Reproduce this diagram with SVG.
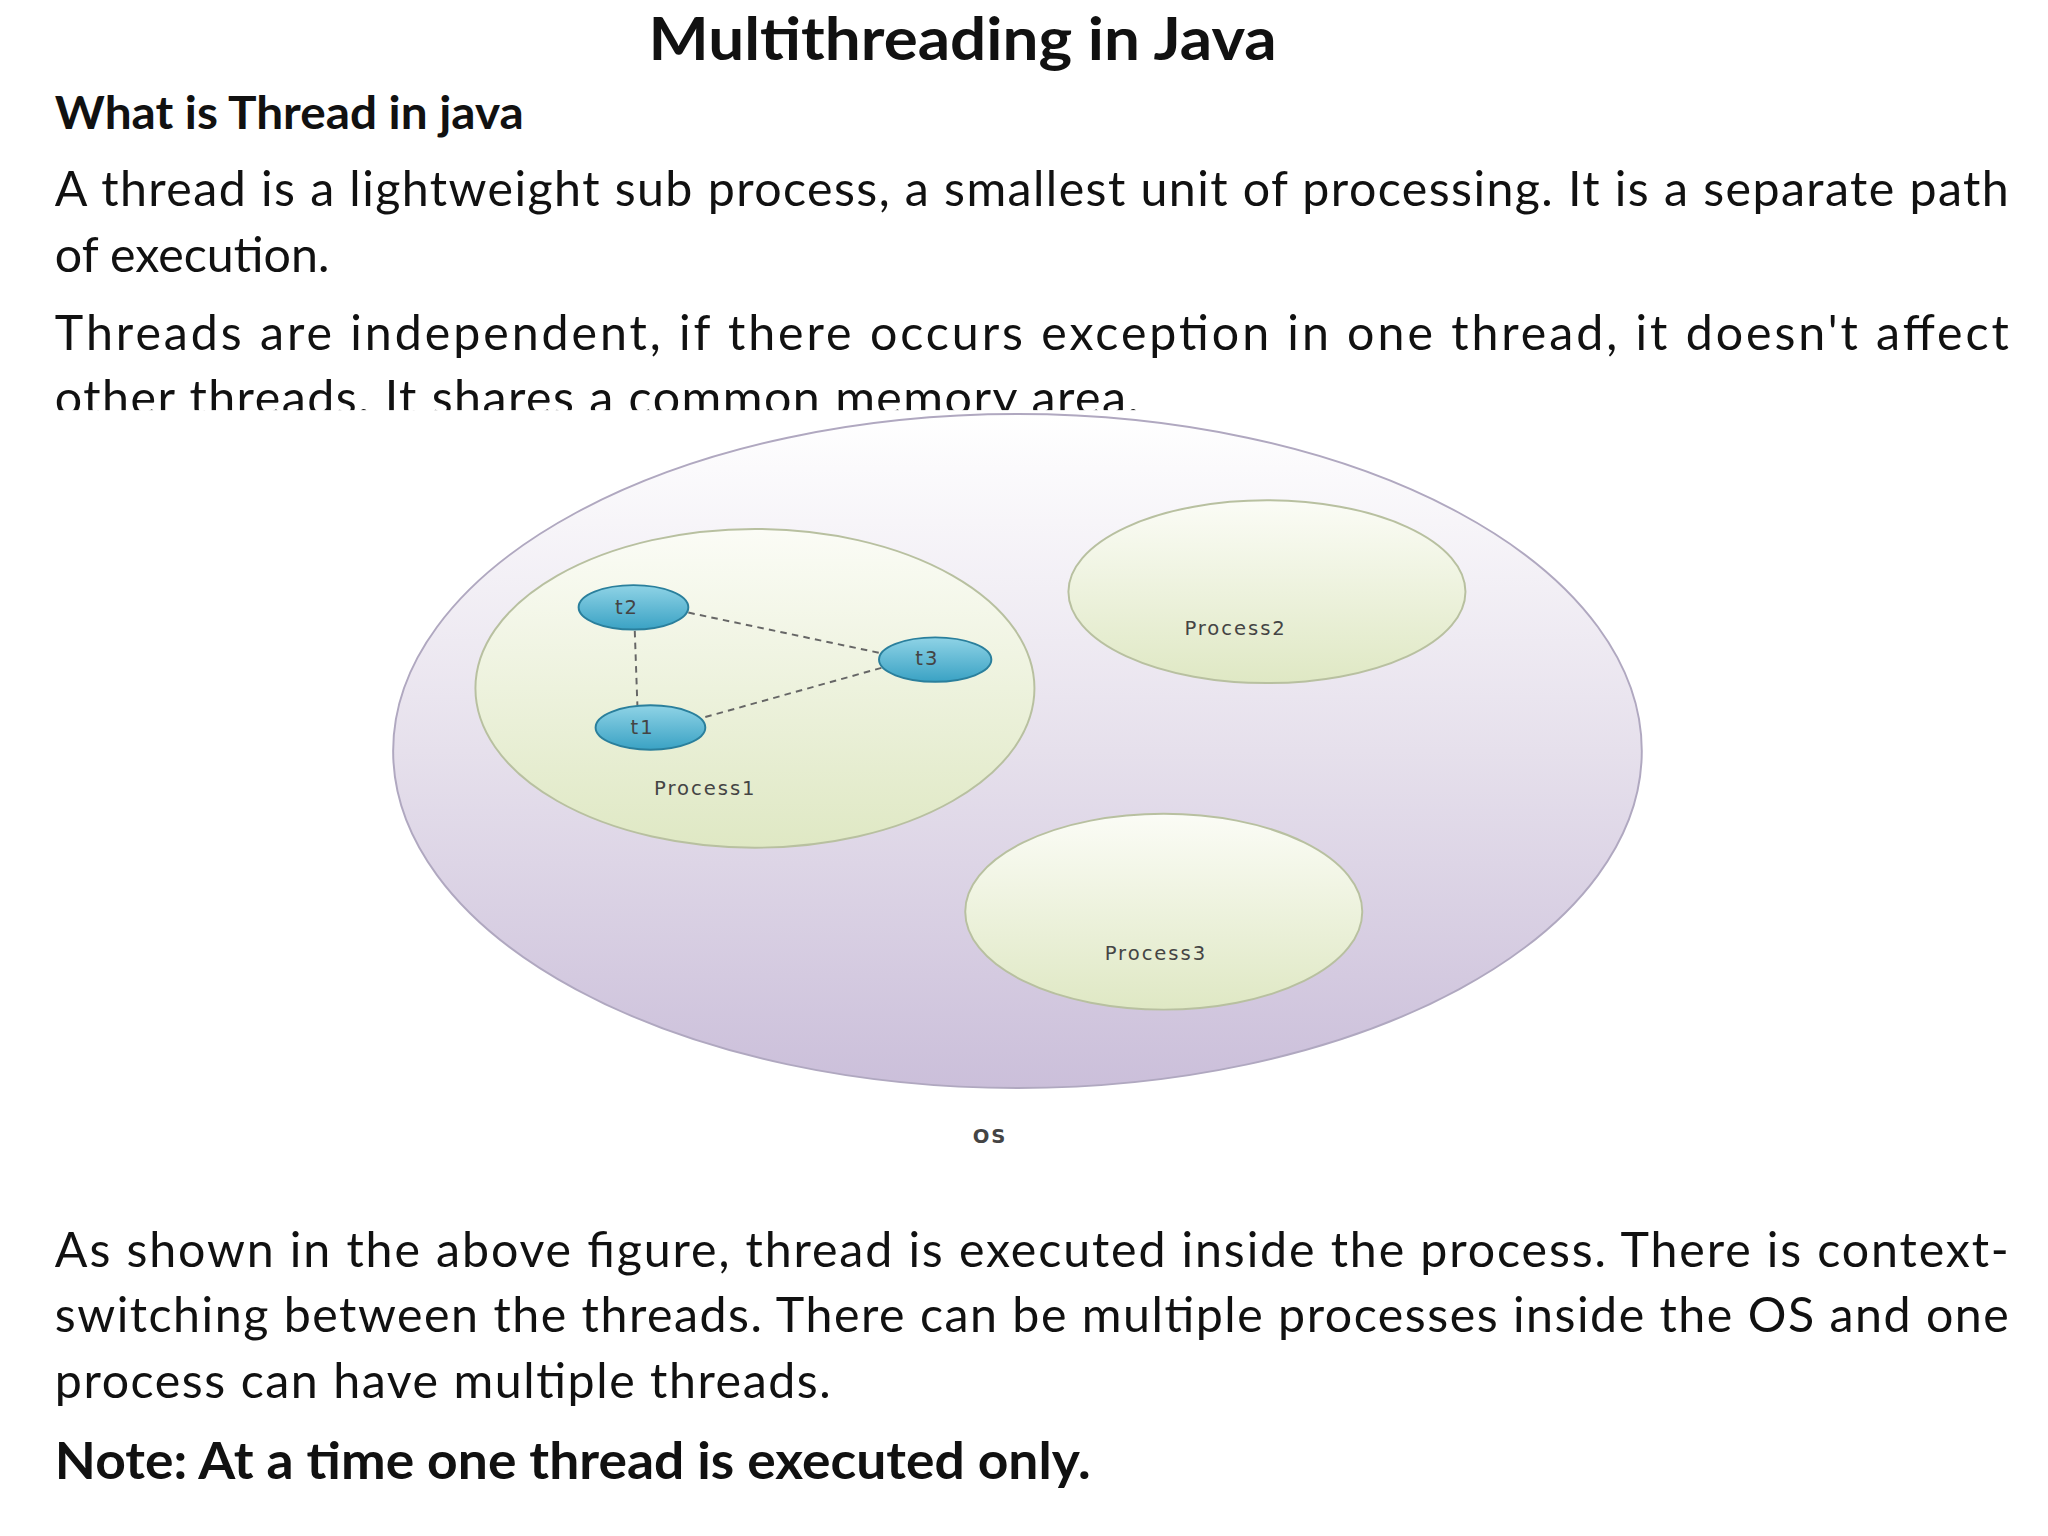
<svg xmlns="http://www.w3.org/2000/svg" width="2048" height="1536" viewBox="0 0 2048 1536">
<defs>
<linearGradient id="osg" x1="0" y1="0" x2="0" y2="1"><stop offset="0" stop-color="#ffffff"/><stop offset="0.5" stop-color="#e6e0ec"/><stop offset="1" stop-color="#cbbfda"/></linearGradient>
<linearGradient id="pg" x1="0" y1="0" x2="0" y2="1"><stop offset="0" stop-color="#fbfcf6"/><stop offset="1" stop-color="#dfe8c4"/></linearGradient>
<linearGradient id="tg" x1="0" y1="0" x2="0" y2="1"><stop offset="0" stop-color="#8fd3e6"/><stop offset="1" stop-color="#3aa2c4"/></linearGradient>
<style>
.b{font-family:Lato,"Liberation Sans",sans-serif;font-size:37px;fill:#111}
.h{font-family:Lato,"Liberation Sans",sans-serif;font-weight:bold;fill:#111}
.l{font-family:"DejaVu Sans",sans-serif;font-size:15px;fill:#444;letter-spacing:1.5px}
.p{fill:url(#pg);stroke:#b8c0a0;stroke-width:1.5}
.t{fill:url(#tg);stroke:#2a7f9c;stroke-width:1.5}
.c{stroke:#666;stroke-width:1.5;stroke-dasharray:5,4;fill:none}
</style>
</defs>
<rect width="2048" height="1536" fill="#fff"/>
<g transform="scale(1.30612)">
<text class="h" x="737" y="46" font-size="46" text-anchor="middle" textLength="481" lengthAdjust="spacingAndGlyphs">Multithreading in Java</text>
<text class="h" x="42" y="99" font-size="35" textLength="359" lengthAdjust="spacingAndGlyphs">What is Thread in java</text>
<text class="b" x="42" y="158" textLength="1496" lengthAdjust="spacing">A thread is a lightweight sub process, a smallest unit of processing. It is a separate path</text>
<text class="b" x="42" y="208">of execution.</text>
<text class="b" x="42" y="268" textLength="1496" lengthAdjust="spacing">Threads are independent, if there occurs exception in one thread, it doesn't affect</text>
<text class="b" x="42" y="318" textLength="830" lengthAdjust="spacing">other threads. It shares a common memory area.</text>
<rect x="0" y="314" width="1568" height="30" fill="#fff"/>
<g id="os"><ellipse cx="779" cy="575" rx="478" ry="258" fill="url(#osg)" stroke="#b0a8c0" stroke-width="1.5"/><text class="l" x="758" y="875" font-size="20" font-weight="bold" text-anchor="middle">OS</text></g>
<g id="process1"><ellipse class="p" cx="578" cy="527" rx="214" ry="122"/><text class="l" x="540" y="609" text-anchor="middle">Process1</text></g>
<g id="process2"><ellipse class="p" cx="970" cy="453" rx="152" ry="70"/><text class="l" x="946" y="486" text-anchor="middle">Process2</text></g>
<g id="process3"><ellipse class="p" cx="891" cy="698" rx="152" ry="75"/><text class="l" x="885" y="735" text-anchor="middle">Process3</text></g>
<g id="connectors">
<line class="c" x1="527" y1="469" x2="674" y2="500"/>
<line class="c" x1="486" y1="483" x2="488" y2="540"/>
<line class="c" x1="540" y1="549" x2="676" y2="511"/>
</g>
<g id="t2"><ellipse class="t" cx="485" cy="465" rx="42" ry="17"/><text class="l" x="480" y="470" font-size="14" text-anchor="middle">t2</text></g>
<g id="t3"><ellipse class="t" cx="716" cy="505" rx="43" ry="17"/><text class="l" x="710" y="509" font-size="14" text-anchor="middle">t3</text></g>
<g id="t1"><ellipse class="t" cx="498" cy="557" rx="42" ry="17"/><text class="l" x="492" y="562" font-size="14" text-anchor="middle">t1</text></g>
<text class="b" x="42" y="970" textLength="1496" lengthAdjust="spacing">As shown in the above figure, thread is executed inside the process. There is context-</text>
<text class="b" x="42" y="1020" textLength="1496" lengthAdjust="spacing">switching between the threads. There can be multiple processes inside the OS and one</text>
<text class="b" x="42" y="1070" textLength="594" lengthAdjust="spacing">process can have multiple threads.</text>
<text class="h" x="42" y="1132" font-size="40" textLength="793" lengthAdjust="spacingAndGlyphs">Note: At a time one thread is executed only.</text>
</g>
</svg>
